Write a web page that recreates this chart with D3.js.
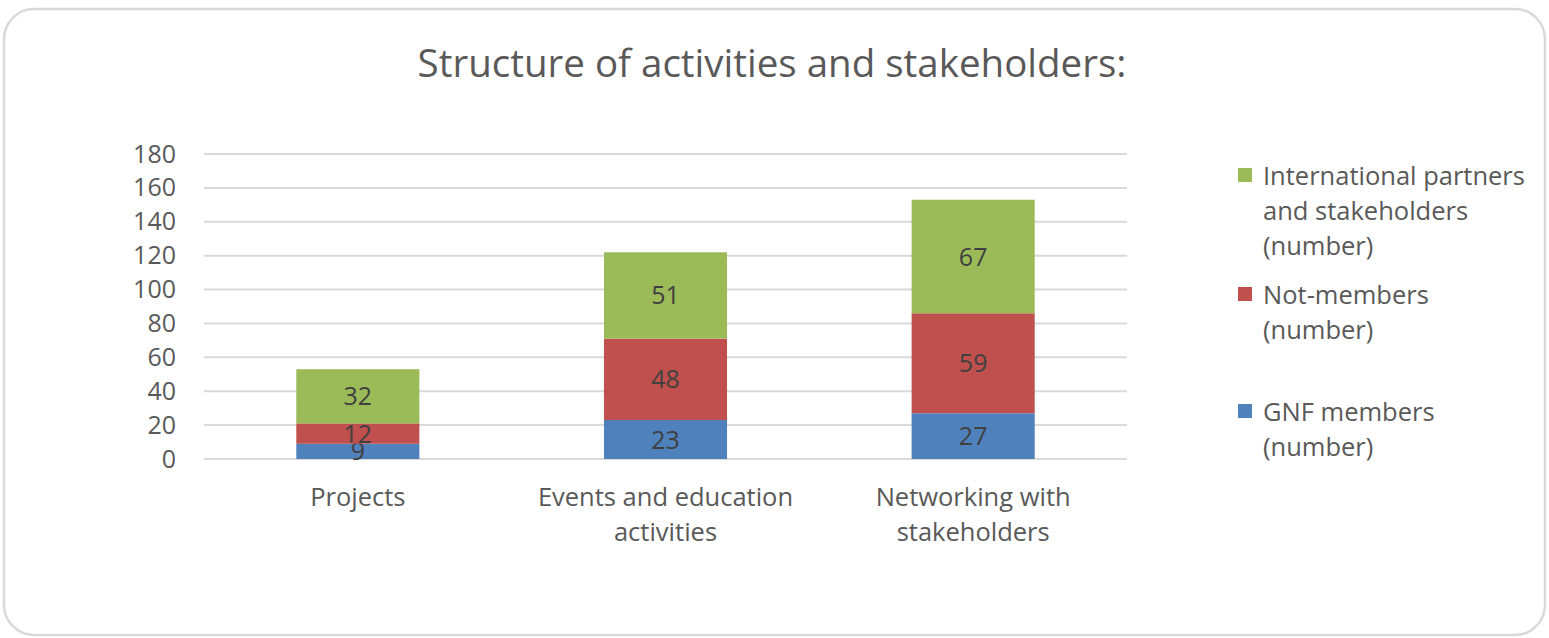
<!DOCTYPE html>
<html>
<head>
<meta charset="utf-8">
<script src="https://cdn.jsdelivr.net/npm/d3@7"></script>
<style>
  body { margin: 0; background: #fff; }
  svg text { font-family: "Open Sans", sans-serif; }
</style>
</head>
<body>
<div id="chart"></div>
<script>
const categories = ["Projects", "Events and education activities", "Networking with stakeholders"];
const categoryLines = [["Projects"], ["Events and education", "activities"], ["Networking with", "stakeholders"]];
const gnfMembers = [9, 23, 27];
const notMembers = [12, 48, 59];
const intlPartners = [32, 51, 67];
const yTicks = [0, 20, 40, 60, 80, 100, 120, 140, 160, 180];
const seriesNames = ["GNF members (number)", "Not-members (number)", "International partners and stakeholders (number)"];
const legendLines = [["International partners", "and stakeholders", "(number)"], ["Not-members", "(number)"], ["GNF members", "(number)"]];

const width = 1549, height = 638;
const plot = {left: 204, right: 1127, top: 154, bottom: 459};
const colors = ["#4f81bd", "#c0504d", "#9bbb59"];

const svg = d3.select("#chart")
  .append("svg")
  .attr("width", width)
  .attr("height", height);

// chart frame
svg.append("rect")
  .attr("x", 4).attr("y", 9)
  .attr("width", width - 8).attr("height", height - 12)
  .attr("rx", 30).attr("ry", 30)
  .attr("fill", "#fff")
  .attr("stroke", "#d9d9d9")
  .attr("stroke-width", 2.5);

svg.append("text")
  .attr("x", 772)
  .attr("y", 77)
  .attr("text-anchor", "middle")
  .attr("fill", "#595959")
  .style("font-size", "38.5px")
  .text("Structure of activities and stakeholders:");

const data = categories.map((c, i) => ({
  cat: c,
  gnf: gnfMembers[i],
  not: notMembers[i],
  intl: intlPartners[i]
}));
const keys = ["gnf", "not", "intl"];

const x = d3.scaleBand()
  .domain(categories)
  .range([plot.left, plot.right]);
const y = d3.scaleLinear()
  .domain([0, 180])
  .range([plot.bottom, plot.top]);

// gridlines
svg.append("g")
  .selectAll("line")
  .data(yTicks)
  .join("line")
  .attr("x1", plot.left).attr("x2", plot.right)
  .attr("y1", d => y(d)).attr("y2", d => y(d))
  .attr("stroke", "#d9d9d9")
  .attr("stroke-width", 2);

// y axis labels
const yAxis = svg.append("g")
  .attr("transform", `translate(${plot.left}, 0)`)
  .call(d3.axisLeft(y).tickValues(yTicks).tickSize(0).tickPadding(28));
yAxis.select(".domain").remove();
yAxis.selectAll("text")
  .attr("fill", "#595959")
  .style("font-size", "25px")
  .style("font-family", "'Open Sans', sans-serif");

const stacked = d3.stack().keys(keys)(data);
const barW = x.bandwidth() * 0.4;

const layers = svg.append("g")
  .selectAll("g")
  .data(stacked)
  .join("g")
  .attr("fill", (d, i) => colors[i]);

layers.selectAll("rect")
  .data(d => d)
  .join("rect")
  .attr("x", d => x(d.data.cat) + (x.bandwidth() - barW) / 2)
  .attr("width", barW)
  .attr("y", d => y(d[1]))
  .attr("height", d => y(d[0]) - y(d[1]));

layers.selectAll("text")
  .data(d => d)
  .join("text")
  .attr("x", d => x(d.data.cat) + x.bandwidth() / 2)
  .attr("y", d => y((d[0] + d[1]) / 2))
  .attr("dy", "0.36em")
  .attr("text-anchor", "middle")
  .attr("fill", "#404040")
  .style("font-size", "25px")
  .text(d => d[1] - d[0]);

// category labels
const catG = svg.append("g");
categories.forEach((c, i) => {
  const t = catG.append("text")
    .attr("x", x(c) + x.bandwidth() / 2)
    .attr("y", 506)
    .attr("text-anchor", "middle")
    .attr("fill", "#595959")
    .style("font-size", "25.5px");
  categoryLines[i].forEach((line, j) => {
    t.append("tspan")
      .attr("x", x(c) + x.bandwidth() / 2)
      .attr("dy", j === 0 ? 0 : 35)
      .text(line);
  });
});

// legend
const legendTops = [185, 304, 421];
const legend = svg.append("g");
legendLines.forEach((lines, i) => {
  const colorIdx = 2 - i;
  const g = legend.append("g").attr("transform", `translate(1238, ${legendTops[i]})`);
  g.append("rect")
    .attr("x", 0).attr("y", -17)
    .attr("width", 14).attr("height", 14)
    .attr("fill", colors[colorIdx]);
  const t = g.append("text")
    .attr("x", 25).attr("y", 0)
    .attr("fill", "#595959")
    .style("font-size", "25.5px");
  lines.forEach((line, j) => {
    t.append("tspan")
      .attr("x", 25)
      .attr("dy", j === 0 ? 0 : 35)
      .text(line);
  });
});
</script>
</body>
</html>
